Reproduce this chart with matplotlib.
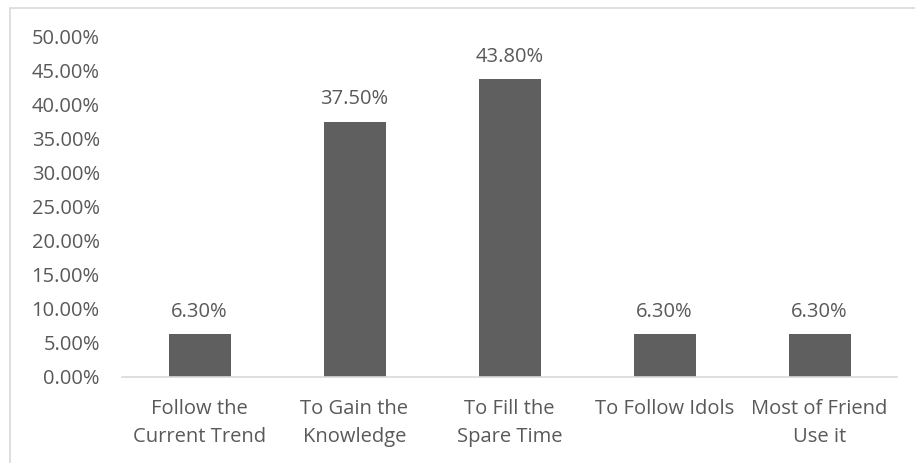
import matplotlib
matplotlib.use("Agg")
import matplotlib.pyplot as plt
from matplotlib.patches import Rectangle
from matplotlib.ticker import FuncFormatter

categories = ["Follow the\nCurrent Trend", "To Gain the\nKnowledge", "To Fill the\nSpare Time",
              "To Follow Idols", "Most of Friend\nUse it"]
values = [6.3, 37.5, 43.8, 6.3, 6.3]
yticks = [0, 5, 10, 15, 20, 25, 30, 35, 40, 45, 50]

text_color = "#595959"
bar_color = "#5f5f5f"
fsize = 14.5
plt.rcParams["font.family"] = ["Open Sans", "DejaVu Sans"]

W, H = 915, 463
fig = plt.figure(figsize=(W / 100, H / 100), dpi=100)

# chart area border (open towards the right and bottom)
fig.patches.append(Rectangle((10 / W, -0.1), 1.2, (H - 8) / H + 0.1, transform=fig.transFigure,
                             fill=False, edgecolor="#d9d9d9", linewidth=1.2))

ax = fig.add_axes([122 / W, (H - 377) / H, (897 - 122) / W, (377 - 37) / H])
x = range(len(categories))
bars = ax.bar(x, values, width=0.4, color=bar_color)

for b, v in zip(bars, values):
    ax.annotate(f"{v:.2f}%", (b.get_x() + b.get_width() / 2, v), xytext=(0, 9),
                textcoords="offset points", ha="center", va="bottom",
                fontsize=fsize, color=text_color)

ax.set_xlim(-0.5, len(categories) - 0.5)
ax.set_ylim(0, 50)
ax.set_yticks(yticks)
ax.yaxis.set_major_formatter(FuncFormatter(lambda v, p: f"{v:.2f}%"))
ax.set_xticks(list(x))
ax.set_xticklabels(categories, linespacing=1.5)
ax.tick_params(axis="both", length=0, labelsize=fsize, labelcolor=text_color)
ax.tick_params(axis="y", pad=16)
ax.tick_params(axis="x", pad=16)

for side in ["top", "right", "left"]:
    ax.spines[side].set_visible(False)
ax.spines["bottom"].set_color("#d9d9d9")
ax.spines["bottom"].set_linewidth(1.2)

fig.savefig("out.png", dpi=100)
